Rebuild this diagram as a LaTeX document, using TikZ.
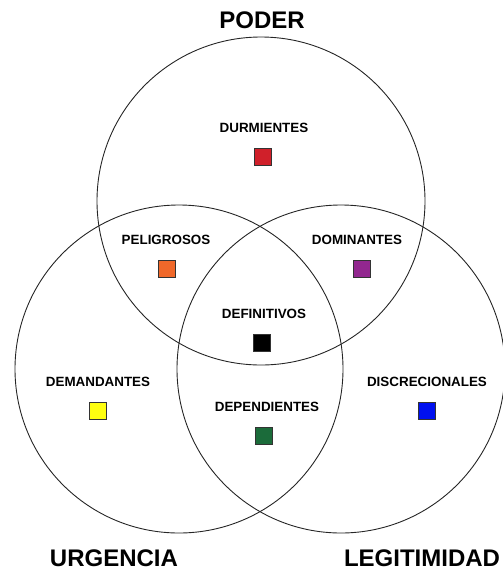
\documentclass[tikz,border=0pt]{standalone}
\usepackage{fontspec}
\setmainfont{Liberation Sans}
\definecolor{cred}{HTML}{D0202A}
\definecolor{corange}{HTML}{F0682A}
\definecolor{cpurple}{HTML}{92278F}
\definecolor{cyellow}{HTML}{FFFF10}
\definecolor{cblue}{HTML}{0010F0}
\definecolor{cgreen}{HTML}{1B6B3A}
\begin{document}
\begin{tikzpicture}[x=1pt,y=-1pt,
  ring/.style={draw=black!85,line width=0.9pt},
  title/.style={font=\fontsize{24}{26}\selectfont\bfseries,inner sep=0pt},
  label/.style={font=\fontsize{13.4}{15}\selectfont\bfseries,inner sep=0pt},
  swatch/.style={draw=black!80,line width=0.6pt,minimum size=17pt,inner sep=0pt}]
\useasboundingbox (0,0) rectangle (503,574);
% the three sets
\draw[ring] (261,201) circle (164);
\draw[ring] (179,369) circle (164);
\draw[ring] (341,369) circle (164);
% set names
\node[title] (poder) at (262,20) {PODER};
\node[title] (urg) at (114,558) {URGENCIA};
\node[title] (leg) at (422,558) {LEGITIMIDAD};
% regions
\node[label] (durm) at (264,128) {DURMIENTES};
\node[swatch,fill=cred] (sq1) at (263,157) {};
\node[label] (pel) at (166,240) {PELIGROSOS};
\node[swatch,fill=corange] (sq2) at (167,269) {};
\node[label] (dom) at (357,240) {DOMINANTES};
\node[swatch,fill=cpurple] (sq3) at (362,269) {};
\node[label] (def) at (264,314) {DEFINITIVOS};
\node[swatch,fill=black] (sq4) at (262,343) {};
\node[label] (dem) at (98,382) {DEMANDANTES};
\node[swatch,fill=cyellow] (sq5) at (98,411) {};
\node[label] (dis) at (427,382) {DISCRECIONALES};
\node[swatch,fill=cblue] (sq6) at (427,411) {};
\node[label] (dep) at (267,407) {DEPENDIENTES};
\node[swatch,fill=cgreen] (sq7) at (264,436) {};
\end{tikzpicture}
\end{document}
